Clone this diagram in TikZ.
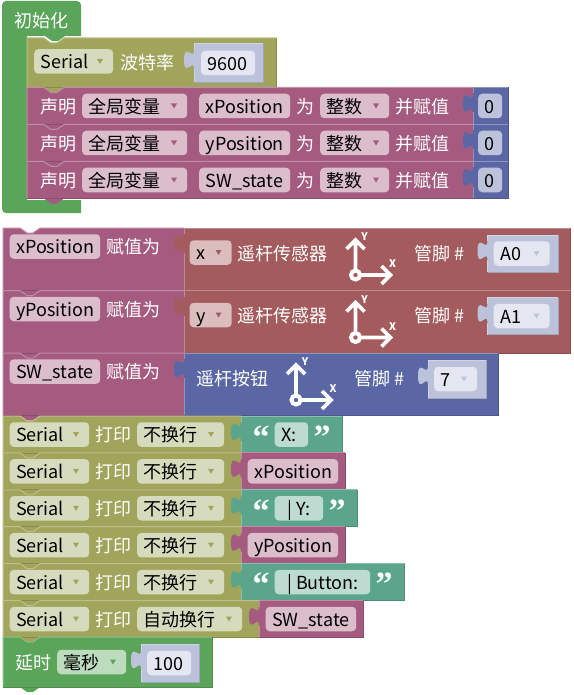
\documentclass[tikz,border=0pt]{standalone}
\usepackage{xcolor}
\usepackage{fontspec}
\setmainfont{Noto Sans CJK SC}
\newfontfamily\quotefont{Liberation Serif}
\usepackage{tikz}
\definecolor{startgreen}{RGB}{91,165,91}
\definecolor{olive}{RGB}{161,165,91}
\definecolor{varpurple}{RGB}{165,91,128}
\definecolor{brick}{RGB}{163,91,93}
\definecolor{bluey}{RGB}{91,103,165}
\definecolor{teal}{RGB}{91,165,140}
\definecolor{shadowblue}{RGB}{189,194,219}
\definecolor{fieldpale}{RGB}{228,230,241}
\definecolor{fieldgreen}{RGB}{189,219,189}
\definecolor{fieldolive}{RGB}{215,219,189}
\definecolor{fieldpurple}{RGB}{219,189,204}
\definecolor{fieldbrick}{RGB}{219,189,189}
\definecolor{fieldteal}{RGB}{189,219,209}
\newcommand{\blocktxt}{\fontsize{18}{20}\selectfont}

% stacked block: x0, y0, x1, y1, colour
\newcommand{\stackblock}[5]{%
  \fill[#5] (#1,#2) -- ++(17,0) -- ++(7,5) -- ++(6,0) -- ++(7,-5) -- (#3,#2) -- (#3,#4)
    -- ({#1+37},#4) -- ++(-7,5) -- ++(-6,0) -- ++(-7,-5) -- (#1,#4) -- cycle;
  \draw[#5!70!white, line width=1pt] (#1,#4) -- (#1,#2) -- ++(17,0) -- ++(7,5) -- ++(6,0) -- ++(7,-5) -- (#3,#2);
  \draw[#5!85!black, line width=1pt] (#3,#2) -- (#3,#4) -- (#1,#4);
}
% block with a puzzle tab on its left: x0, y0, x1, y1, colour
\newcommand{\outblock}[5]{%
  \fill[#5] (#1,#2) -- (#3,#2) -- (#3,#4) -- (#1,#4) -- (#1,#2+25)
    .. controls (#1,#2+13) and (#1-10,#2+35) .. (#1-10,#2+16)
    .. controls (#1-10,#2-3) and (#1,#2+18) .. (#1,#2+6) -- cycle;
  \draw[#5!70!white, line width=1pt] (#1,#4) -- (#1,#2+25) (#1,#2+6) -- (#1,#2) -- (#3,#2);
  \draw[#5!85!black, line width=1pt] (#3,#2) -- (#3,#4) -- (#1,#4);
}
% field without arrow: name, x0, x1, middle y, fill, text
\newcommand{\plainfield}[6]{%
  \node[fieldbox, fill=#5, minimum width={(#3)*1pt-(#2)*1pt}] (#1) at (#2,#4) {};
  \node[ftext] (#1 text) at (#2+6.5,#4+6) {#6};
}
% field with drop arrow: name, x0, x1, middle y, fill, arrow colour, text
\newcommand{\dropfield}[7]{%
  \plainfield{#1}{#2}{#3}{#4}{#5}{#7}
  \fill[#6] (#3-16,#4-2.5) -- (#3-10,#4-2.5) -- (#3-13,#4+2.5) -- cycle;
}
% declaration row: name, top, variable
\newcommand{\declrow}[3]{%
  \stackblock{27}{#2}{473}{#2+37}{varpurple}
  \node[wlabel] (#1 say) at (40,#2+24.5) {声明};
  \dropfield{#1 scope}{82}{187}{#2+18.5}{fieldpurple}{varpurple}{全局变量}
  \plainfield{#1 var}{199}{290}{#2+18.5}{fieldpurple}{#3}
  \node[wlabel] (#1 as) at (296,#2+24.5) {为};
  \dropfield{#1 type}{320}{389}{#2+18.5}{fieldpurple}{varpurple}{整数}
  \node[wlabel] (#1 init) at (395,#2+24.5) {并赋值};
  \outblock{473}{#2}{508}{#2+37}{bluey}
  \plainfield{#1 val}{478}{502}{#2+18.5}{shadowblue}{0}
}
% assignment row: name, top, variable
\newcommand{\assignrow}[3]{%
  \stackblock{3}{#2}{184}{#2+62.5}{varpurple}
  \plainfield{#1 var}{9.5}{100}{#2+18.5}{fieldpurple}{#3}
  \node[wlabel] (#1 set) at (106,#2+24.5) {赋值为};
}
% sensor block: name, top, axis, pin
\newcommand{\sensorblock}[4]{%
  \outblock{184}{#2}{570.5}{#2+62.5}{brick}
  \dropfield{#1 axis}{189.5}{231.5}{#2+24.5}{fieldbrick}{brick}{#3}
  \node[wlabel] (#1 name) at (237.5,#2+31) {遥杆传感器};
  \pic at (355.5,#2+47) {joyicon};
  \node[wlabel] (#1 pin) at (414,#2+31) {管脚 \#};
  \outblock{487.5}{#2+7}{558}{#2+44}{shadowblue}
  \dropfield{#1 port}{493.5}{549.5}{#2+25.5}{fieldpale}{shadowblue}{#4}
}
% print row: name, top, mode, end of mode field, end of block
\newcommand{\printrow}[5]{%
  \stackblock{3}{#2}{#5}{#2+37}{olive}
  \dropfield{#1 port}{9.5}{89}{#2+18.5}{fieldolive}{olive}{Serial}
  \node[wlabel] (#1 say) at (95,#2+24.5) {打印};
  \dropfield{#1 mode}{137}{#4}{#2+18.5}{fieldolive}{olive}{#3}
}
% text value: name, top, end of field, end of block, text
\newcommand{\textvalue}[5]{%
  \outblock{241}{#2}{#4}{#2+37}{teal}
  \node[qmark] (#1 open) at (261,#2+16) {“};
  \plainfield{#1 str}{274.5}{#3}{#2+18.5}{fieldteal}{#5}
  \node[qmark] (#1 close) at (#3+14,#2+16) {”};
}
% variable value: name, x0, top, text
\newcommand{\varvalue}[4]{%
  \outblock{#2}{#3}{#2+104}{#3+37}{varpurple}
  \plainfield{#1}{#2+6.5}{#2+97}{#3+18.5}{fieldpurple}{#4}
}

\begin{document}
\begin{tikzpicture}[
    x=1pt, y=-1pt,
    fieldbox/.style={rectangle, rounded corners=4pt, anchor=west, inner sep=0pt, minimum height=24.5pt},
    ftext/.style={anchor=base west, inner sep=0pt, text=black, font=\blocktxt, yshift=-1.3pt},
    wlabel/.style={anchor=base west, inner sep=0pt, text=white, font=\blocktxt, yshift=-1.3pt},
    qmark/.style={inner sep=0pt, text=white, font=\quotefont\bfseries\fontsize{34}{34}\selectfont, yshift=-5pt},
    axislabel/.style={inner sep=0pt, text=white, font=\bfseries\fontsize{10.5}{11}\selectfont},
    joyicon/.pic={
        \draw[white, line width=4pt] (0,0) circle (4.5);
        \draw[white, line width=3.6pt] (0,-3) -- (0,-35) (-9,-26) -- (0,-35) -- (9,-26);
        \draw[white, line width=3.6pt] (3,0) -- (35,0) (26,-9) -- (35,0) -- (26,9);
        \node[axislabel] (ylabel) at (9,-38) {Y};
        \node[axislabel] (xlabel) at (37,-11) {X};
    }
]
\useasboundingbox (0,0) rectangle (573,695);

% setup
\fill[startgreen] (81,213) [rounded corners=4pt] -- (2,213) -- (2,1) -- (81,1) [sharp corners] -- (81,36)
    -- (65,36) -- (58,41) -- (52,41) -- (45,36) -- (27,36) -- (27,200) -- (81,200) -- cycle;
\node[wlabel] (setup) at (14,26) {初始化};
\stackblock{27}{38}{276}{87.5}{olive}
\dropfield{baud port}{34}{113}{61.5}{fieldolive}{olive}{Serial}
\node[wlabel] (baud) at (120,68) {波特率};
\outblock{194}{44}{263}{83}{shadowblue}
\plainfield{baud val}{201}{255}{63}{fieldpale}{9600}
\declrow{xdecl}{87.5}{xPosition}
\declrow{ydecl}{124.5}{yPosition}
\declrow{swdecl}{161.5}{SW\_state}

% assignments
\assignrow{xset}{228}{xPosition}
\sensorblock{xjoy}{228}{x}{A0}
\assignrow{yset}{290.5}{yPosition}
\sensorblock{yjoy}{290.5}{y}{A1}
\assignrow{swset}{353}{SW\_state}
\outblock{184}{353}{498}{415.5}{bluey}
\node[wlabel] (button) at (196,384) {遥杆按钮};
\pic at (296,400) {joyicon};
\node[wlabel] (button pin) at (354,384) {管脚 \#};
\outblock{428}{360}{486}{398}{shadowblue}
\dropfield{button port}{434}{477}{379}{fieldpale}{shadowblue}{7}

% printing
\printrow{pa}{416}{不换行}{224}{241}
\textvalue{pa}{416}{308}{342}{X:}
\printrow{pb}{452.9}{不换行}{224}{241}
\varvalue{pb var}{241}{452.9}{xPosition}
\printrow{pc}{489.8}{不换行}{224}{241}
\textvalue{pc}{489.8}{323}{357}{\hspace*{6pt}| Y:}
\printrow{pd}{526.7}{不换行}{224}{241}
\varvalue{pd var}{241}{526.7}{yPosition}
\printrow{pe}{563.6}{不换行}{224}{241}
\textvalue{pe}{563.6}{370}{404.5}{\hspace*{6pt}| Button:}
\printrow{pf}{600.5}{自动换行}{242}{259}
\varvalue{pf var}{259}{600.5}{SW\_state}

% delay
\stackblock{3}{637}{212}{687}{startgreen}
\node[wlabel] (delay) at (15,668) {延时};
\dropfield{delay unit}{57}{126}{662}{fieldgreen}{startgreen}{毫秒}
\outblock{141}{644}{199}{682}{shadowblue}
\plainfield{delay val}{147}{191}{663}{fieldpale}{100}
\end{tikzpicture}
\end{document}
